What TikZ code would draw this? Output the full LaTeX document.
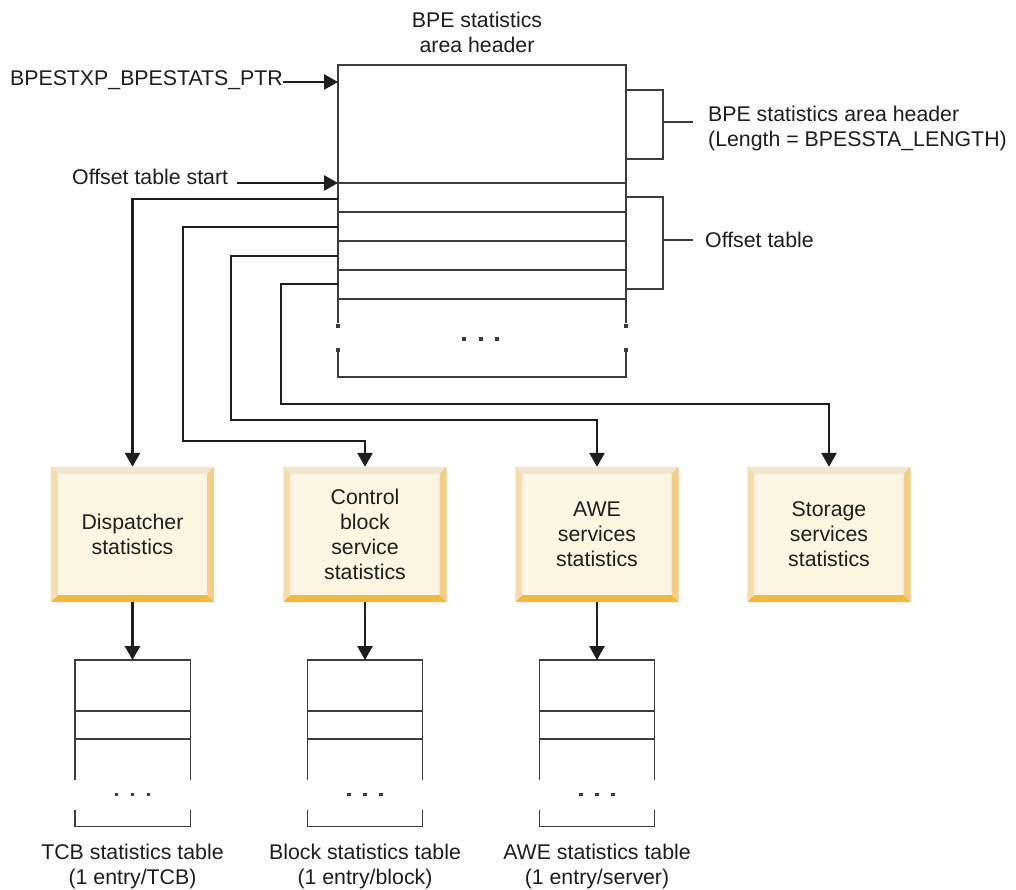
\documentclass[tikz,border=0pt]{standalone}
\usepackage{fontspec}
\setmainfont{Liberation Sans}
\usetikzlibrary{arrows.meta,calc}
\definecolor{tblgray}{HTML}{3C3C3C}
\definecolor{txt}{HTML}{1E1E1E}
\definecolor{yinner}{HTML}{FDF6E3}
\definecolor{btop}{HTML}{F2E6D0}
\definecolor{bleft}{HTML}{F5DDAE}
\definecolor{bright}{HTML}{F5CE86}
\definecolor{bbottom}{HTML}{F3B840}
\newcommand\bevelbox[1]{%
  \fill[btop] (#1.north west) -- (#1.north east) -- ($(#1.north east)+(-7,7)$) -- ($(#1.north west)+(7,7)$) -- cycle;
  \fill[bleft] (#1.north west) -- ($(#1.north west)+(7,7)$) -- ($(#1.south west)+(7,-7)$) -- (#1.south west) -- cycle;
  \fill[bright] (#1.north east) -- ($(#1.north east)+(-7,7)$) -- ($(#1.south east)+(-7,-7)$) -- (#1.south east) -- cycle;
  \fill[bbottom] (#1.south west) -- ($(#1.south west)+(7,-7)$) -- ($(#1.south east)+(-7,-7)$) -- (#1.south east) -- cycle;
}
\newcommand\tdot[1]{\fill[tblgray] ($#1+(-1.6,-1.6)$) rectangle ++(3.2,3.2);}
\newcommand\subtab[1]{%
  \draw[tbl] ($(#1.north west)+(0,120)$) -- (#1.north west) -- (#1.north east) -- ($(#1.north east)+(0,120)$);
  \draw[tbl] ($(#1.north west)+(0,51)$) -- ($(#1.north east)+(0,51)$);
  \draw[tbl] ($(#1.north west)+(0,79)$) -- ($(#1.north east)+(0,79)$);
  \draw[tbl] ($(#1.south west)+(0,-16)$) -- (#1.south west) -- (#1.south east) -- ($(#1.south east)+(0,-16)$);
  \tdot{(#1.south)+(-16,-32)}\tdot{(#1.south)+(0,-32)}\tdot{(#1.south)+(16,-32)}
}
\begin{document}
\begin{tikzpicture}[x=1pt,y=-1pt,
  lbl/.style={font=\fontsize{21.3}{25}\selectfont, inner sep=0pt, align=center, text=txt},
  tbl/.style={draw=tblgray, line width=1.4pt},
  conn/.style={draw=txt, line width=2.7pt, -{Triangle[length=14pt,width=15pt]}},
  ybox/.style={fill=yinner, minimum width=163pt, minimum height=135pt, inner sep=0pt},
  area/.style={inner sep=0pt, minimum width=#1}
]
\useasboundingbox (0,0) rectangle (1016,890);
\fill[white] (0,0) rectangle (1016,890);

% titles and labels
\node[lbl] (title) at (477,32) {BPE statistics\\area header};
\node[lbl, anchor=east] (ptr) at (283,80) {BPESTXP\_BPESTATS\_PTR};
\node[lbl, anchor=west] (ost) at (72,177) {Offset table start};
\node[lbl, anchor=west, align=left] (hlen) at (708,128) {BPE statistics area header\\(Length = BPESSTA\_LENGTH)};
\node[lbl, anchor=west] (otab) at (705,240) {Offset table};

% main table
\node[area=288pt, minimum height=312pt, anchor=north west] (hdr) at (338,65) {};
\draw[tbl] (338,323) -- (338,65) -- (626,65) -- (626,323);
\foreach \yy in {183,212,241,270,299} \draw[tbl] (338,\yy) -- (626,\yy);
\draw[tbl] (338,352) -- (338,377) -- (626,377) -- (626,352);
\tdot{(338,326)}\tdot{(626,326)}\tdot{(338,350)}\tdot{(626,350)}
\tdot{(464,339)}\tdot{(481,339)}\tdot{(497,339)}

% brackets
\draw[tbl] (626,90) -- (663,90) -- (663,159) -- (626,159);
\draw[tbl] (663,122) -- (693,122);
\draw[tbl] (626,197) -- (663,197) -- (663,289) -- (626,289);
\draw[tbl] (663,240) -- (693,240);

% pointer arrows
\coordinate (ptrT) at (338,82);
\coordinate (ostS) at (237,183);
\coordinate (ostT) at (338,183);
\draw[conn] (ptr.east |- ptrT) -- (ptrT);
\draw[conn] (ostS) -- (ostT);

% statistics boxes
\node[ybox] (disp) at (132.5,534.5) {};
\node[ybox] (ctrl) at (365,534.5) {};
\node[ybox] (awe) at (597,534.5) {};
\node[ybox] (stor) at (829,534.5) {};
\foreach \b in {disp,ctrl,awe,stor} {\bevelbox{\b}}
\node[lbl] at (disp) {Dispatcher\\statistics};
\node[lbl] at (ctrl) {Control\\block\\service\\statistics};
\node[lbl] at (awe) {AWE\\services\\statistics};
\node[lbl] at (stor) {Storage\\services\\statistics};

% offset connectors
\coordinate (r1) at (338,199);
\coordinate (r2) at (338,227);
\coordinate (r3) at (338,256);
\coordinate (r4) at (338,284);
\coordinate (c2) at (183,441);
\coordinate (c3) at (231,420);
\coordinate (c4) at (281,404);
\draw[conn] (r1) -| (disp.north);
\draw[conn] (r2) -| (c2) -| (ctrl.north);
\draw[conn] (r3) -| (c3) -| (awe.north);
\draw[conn] (r4) -| (c4) -| (stor.north);

% sub tables
\node[area=115pt, minimum height=166pt, anchor=north] (t1) at (132.5,660) {};
\node[area=115pt, minimum height=166pt, anchor=north] (t2) at (365,660) {};
\node[area=115pt, minimum height=166pt, anchor=north] (t3) at (597,660) {};
\subtab{t1}\subtab{t2}\subtab{t3}
\draw[conn] (disp.south) -- (t1.north);
\draw[conn] (ctrl.south) -- (t2.north);
\draw[conn] (awe.south) -- (t3.north);

\node[lbl] (l1) at (132.5,866) {TCB statistics table\\(1 entry/TCB)};
\node[lbl] (l2) at (365,866) {Block statistics table\\(1 entry/block)};
\node[lbl] (l3) at (597,866) {AWE statistics table\\(1 entry/server)};
\end{tikzpicture}
\end{document}
